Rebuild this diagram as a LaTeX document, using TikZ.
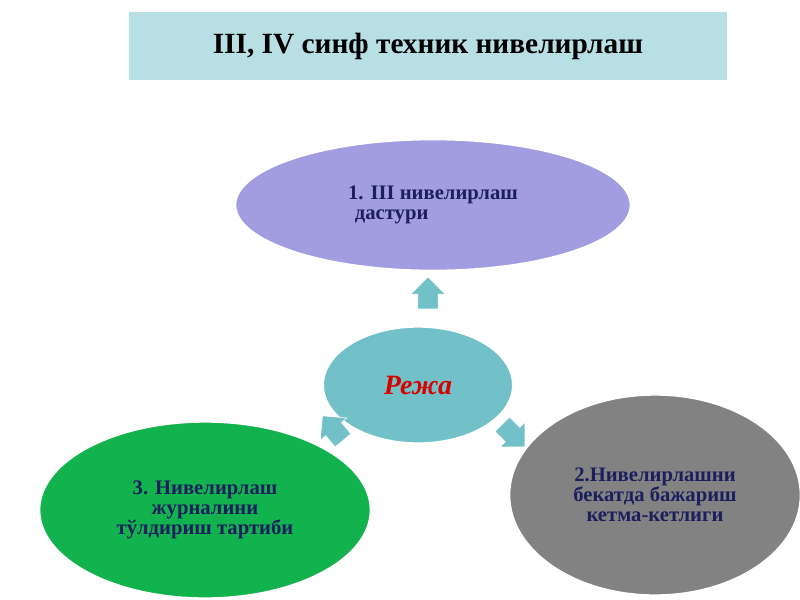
\documentclass[tikz,border=0pt]{standalone}
\usepackage{fontspec}
\setmainfont{Liberation Serif}
\usetikzlibrary{shapes,shapes.arrows}
\definecolor{titlefill}{HTML}{B8DFE4}
\definecolor{planfill}{HTML}{A29CE0}
\definecolor{centerfill}{HTML}{72C1C8}
\definecolor{greenfill}{HTML}{12B24E}
\definecolor{grayfill}{HTML}{828282}
\definecolor{navytext}{HTML}{1B1F5C}
\tikzstyle{oval}=[ellipse, draw=white, line width=1pt, inner sep=0pt, align=center, font=\bfseries\fontsize{15.5}{15}\selectfont, text=navytext]
\tikzstyle{blk}=[single arrow, fill=centerfill, draw=white, minimum height=24pt, minimum width=26pt, single arrow head extend=5pt, inner sep=7pt]
\begin{document}
\begin{tikzpicture}[x=0.75pt,y=-0.75pt]
\useasboundingbox (0,0) rectangle (800,600);
\node[fill=titlefill, minimum width=448pt, minimum height=51pt, font=\bfseries\fontsize{22}{24}\selectfont] (title) at (428,46) {III, IV синф техник нивелирлаш};

\node[oval, fill=planfill, minimum width=296pt, minimum height=98pt] (plan) at (433,205) {1. III нивелирлаш\\дастури\hspace*{4em}};
\node[oval, fill=centerfill, minimum width=142pt, minimum height=87pt, font=\bfseries\itshape\fontsize{21}{22}\selectfont, text=red!85!black] (center) at (418,385) {Режа};
\node[oval, fill=greenfill, minimum width=248pt, minimum height=132pt] (journal) at (205,510) {3. Нивелирлаш\\журналини\hspace*{2em}\\тўлдириш тартиби};
\node[oval, fill=grayfill, minimum width=218pt, minimum height=150pt] (station) at (655,495) {2.Нивелирлашни\\бекатда бажариш\\кетма-кетлиги};

\node[blk, rotate=90] (up) at (428,298) {};
\node[blk, rotate=130] (left) at (336,432) {};
\node[blk, rotate=-45] (right) at (510,432) {};
\end{tikzpicture}
\end{document}
